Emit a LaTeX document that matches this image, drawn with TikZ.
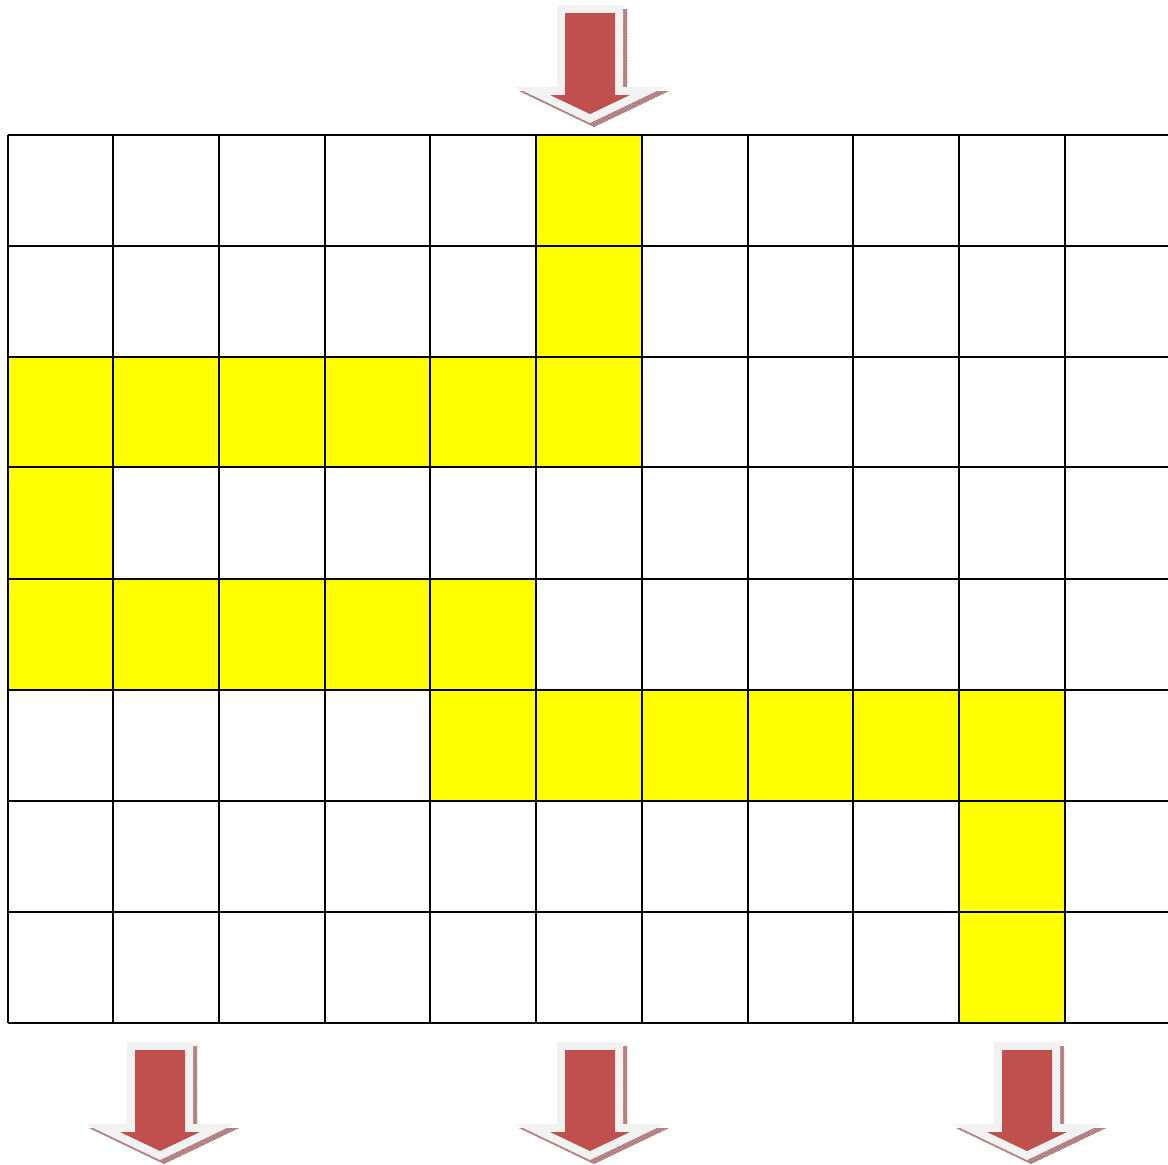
\documentclass[tikz,border=0pt]{standalone}
\usetikzlibrary{patterns}
\definecolor{arrowred}{HTML}{C0504D}
\definecolor{arrowgray}{HTML}{F2F2F2}
\definecolor{shadowbrown}{HTML}{A87070}
\definecolor{cellyellow}{HTML}{FFFF00}
\tikzset{
  gridline/.style={draw=black, line width=1.5pt},
  hicell/.style={fill=cellyellow},
  bigarrow/.pic={
    \fill[shadowbrown!70!white] (-29,4) -- (37,4) -- (37,86) -- (79,86) -- (4,122) -- (-71,86) -- (-29,86) -- cycle;
    \fill[pattern=crosshatch, pattern color=shadowbrown] (-29,4) -- (37,4) -- (37,86) -- (79,86) -- (4,122) -- (-71,86) -- (-29,86) -- cycle;
    \fill[arrowgray] (-33,0) -- (33,0) -- (33,82) -- (75,82) -- (0,118) -- (-75,82) -- (-33,82) -- cycle;
    \fill[arrowred] (-25,8) -- (25,8) -- (25,90) -- (40,90) -- (0,109) -- (-40,90) -- (-25,90) -- cycle;
  }
}
\begin{document}
\begin{tikzpicture}[x=1pt,y=-1pt]
\useasboundingbox (0,0) rectangle (1168,1165);
\def\xs{{8,113,219,325,430,536,642,748,853,959,1065,1168}}
\def\ys{{135,246,357,467,579,690,801,912,1023}}
% highlighted cells (row, col)
\foreach \r/\c in {0/5,1/5,2/0,2/1,2/2,2/3,2/4,2/5,3/0,4/0,4/1,4/2,4/3,4/4,5/4,5/5,5/6,5/7,5/8,5/9,6/9,7/9}{
  \pgfmathsetmacro\xa{\xs[\c]}
  \pgfmathsetmacro\xb{\xs[\c+1]}
  \pgfmathsetmacro\ya{\ys[\r]}
  \pgfmathsetmacro\yb{\ys[\r+1]}
  \fill[hicell] (\xa,\ya) rectangle (\xb,\yb);
}
% horizontal lines
\foreach \y in {135,246,357,467,579,690,801,912,1023}{
  \draw[gridline] (8,\y) -- (1168,\y);
}
% vertical lines
\foreach \x in {8,113,219,325,430,536,642,748,853,959,1065}{
  \draw[gridline] (\x,135) -- (\x,1023);
}
% arrows
\pic at (590,5) {bigarrow};
\pic at (160,1042) {bigarrow};
\pic at (590,1042) {bigarrow};
\pic at (1027,1042) {bigarrow};
\end{tikzpicture}
\end{document}
